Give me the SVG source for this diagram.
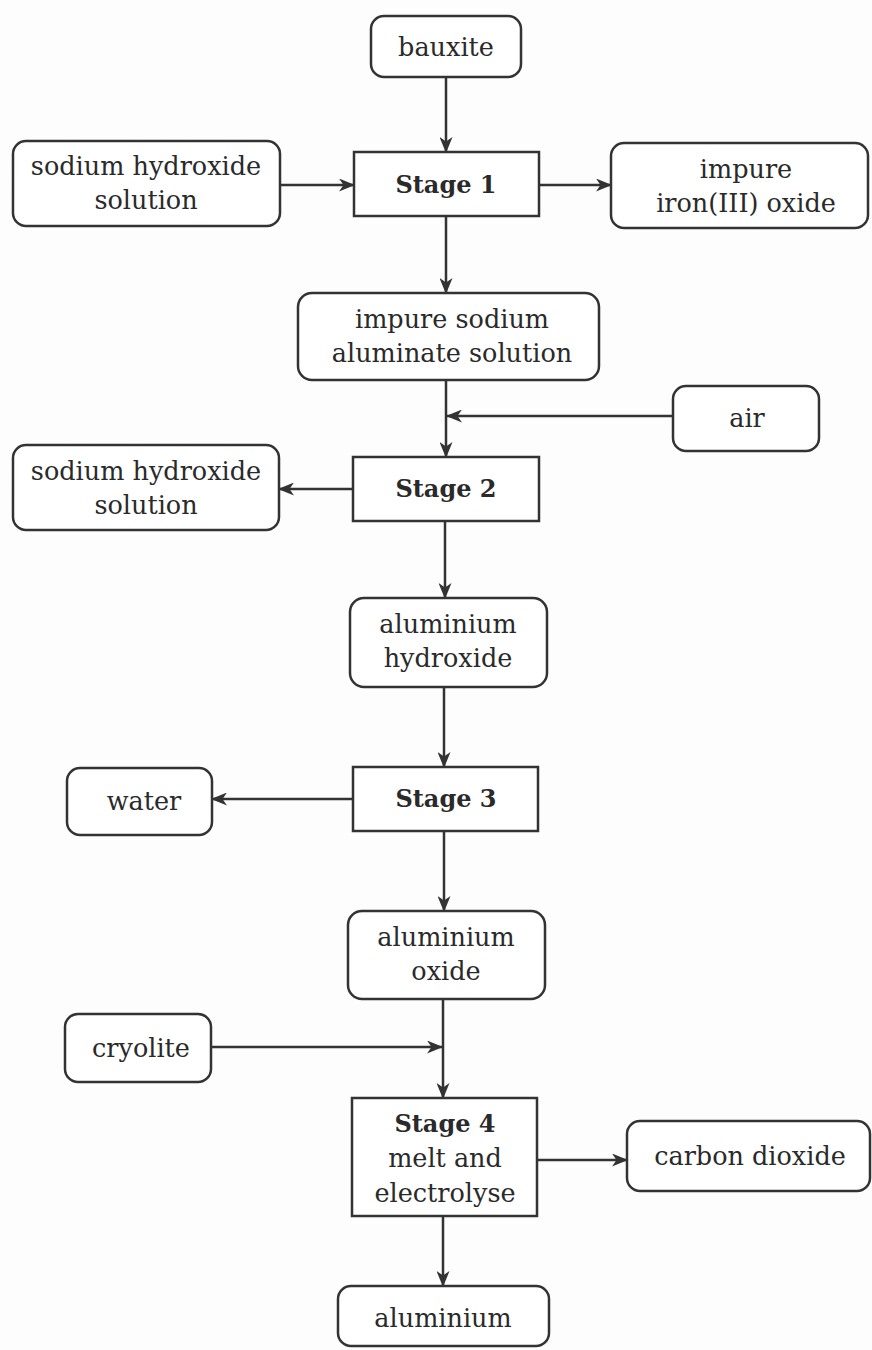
<svg xmlns="http://www.w3.org/2000/svg" width="872" height="1350" viewBox="0 0 872 1350">
<style>
.b{fill:#fff;stroke:#333;stroke-width:2.5}
.t{font-family:"DejaVu Serif","Liberation Serif",serif;font-size:25.5px;fill:#2a2a2a;text-anchor:middle}
.s{font-weight:bold;font-size:24px}
.c{stroke:#333;stroke-width:2.5;fill:none;marker-end:url(#a)}
</style>
<defs>
<marker id="a" markerUnits="userSpaceOnUse" markerWidth="16" markerHeight="13" refX="15" refY="6.5" orient="auto">
<path d="M0,0 L16,6.5 L0,13 L4.5,6.5 z" fill="#333"/>
</marker>
</defs>
<rect width="872" height="1350" fill="#fdfdfd"/>
<g id="connectors">
<line class="c" x1="446" y1="77" x2="446" y2="152"/>
<line class="c" x1="280" y1="185" x2="354" y2="185"/>
<line class="c" x1="539" y1="185" x2="611" y2="185"/>
<line class="c" x1="446" y1="216" x2="446" y2="293"/>
<line class="c" x1="446" y1="380" x2="446" y2="457"/>
<line class="c" x1="673" y1="416" x2="447" y2="416"/>
<line class="c" x1="353" y1="489" x2="279" y2="489"/>
<line class="c" x1="445" y1="521" x2="445" y2="598"/>
<line class="c" x1="444" y1="687" x2="444" y2="767"/>
<line class="c" x1="353" y1="799" x2="212" y2="799"/>
<line class="c" x1="444" y1="831" x2="444" y2="911"/>
<line class="c" x1="443" y1="999" x2="443" y2="1098"/>
<line class="c" x1="211" y1="1047" x2="442" y2="1047"/>
<line class="c" x1="537" y1="1160" x2="627" y2="1160"/>
<line class="c" x1="443" y1="1216" x2="443" y2="1286"/>
</g>
<g id="bauxite"><rect class="b" x="371" y="16" width="150" height="61" rx="13"/><text class="t" x="446" y="56">bauxite</text></g>
<g id="stage1"><rect class="b" x="354" y="152" width="185" height="64"/><text class="t s" x="446" y="193">Stage 1</text></g>
<g id="naoh1"><rect class="b" x="13" y="141" width="267" height="85" rx="13"/><text class="t" x="146" y="175">sodium hydroxide</text><text class="t" x="146" y="209">solution</text></g>
<g id="iron"><rect class="b" x="611" y="143" width="257" height="85" rx="13"/><text class="t" x="746" y="178">impure</text><text class="t" x="746" y="212">iron(III) oxide</text></g>
<g id="aluminate"><rect class="b" x="298" y="293" width="301" height="87" rx="14"/><text class="t" x="452" y="328">impure sodium</text><text class="t" x="452" y="362">aluminate solution</text></g>
<g id="air"><rect class="b" x="673" y="386" width="146" height="65" rx="13"/><text class="t" x="747" y="427">air</text></g>
<g id="stage2"><rect class="b" x="353" y="457" width="186" height="64"/><text class="t s" x="446" y="497">Stage 2</text></g>
<g id="naoh2"><rect class="b" x="13" y="445" width="266" height="85" rx="13"/><text class="t" x="146" y="480">sodium hydroxide</text><text class="t" x="146" y="514">solution</text></g>
<g id="alhydroxide"><rect class="b" x="350" y="598" width="197" height="89" rx="14"/><text class="t" x="448" y="633">aluminium</text><text class="t" x="448" y="667">hydroxide</text></g>
<g id="stage3"><rect class="b" x="353" y="767" width="185" height="64"/><text class="t s" x="446" y="807">Stage 3</text></g>
<g id="water"><rect class="b" x="67" y="768" width="145" height="67" rx="13"/><text class="t" x="144" y="810">water</text></g>
<g id="aloxide"><rect class="b" x="348" y="911" width="197" height="88" rx="14"/><text class="t" x="446" y="946">aluminium</text><text class="t" x="446" y="980">oxide</text></g>
<g id="cryolite"><rect class="b" x="65" y="1014" width="146" height="68" rx="13"/><text class="t" x="141" y="1057">cryolite</text></g>
<g id="stage4"><rect class="b" x="352" y="1098" width="185" height="118"/><text class="t s" x="445" y="1132">Stage 4</text><text class="t" x="445" y="1167">melt and</text><text class="t" x="445" y="1202">electrolyse</text></g>
<g id="co2"><rect class="b" x="627" y="1121" width="243" height="70" rx="13"/><text class="t" x="750" y="1165">carbon dioxide</text></g>
<g id="aluminium"><rect class="b" x="338" y="1286" width="211" height="60" rx="13"/><text class="t" x="443" y="1327">aluminium</text></g>
</svg>
